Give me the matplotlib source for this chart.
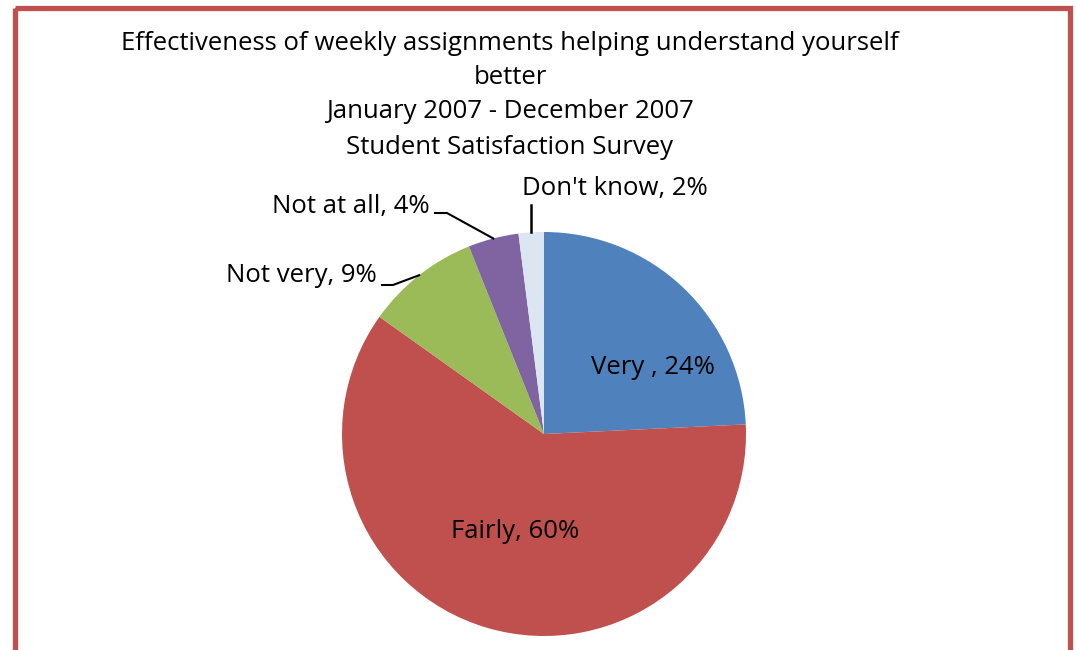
import numpy as np
import matplotlib.pyplot as plt
from matplotlib.patches import Rectangle

plt.rcParams['font.family'] = ['Open Sans', 'DejaVu Sans']

# data
categories = ['Very ', 'Fairly', 'Not very', 'Not at all', "Don't know"]
percents = [24, 60, 9, 4, 2]
colors = ['#4F81BD', '#C0504D', '#9BBB59', '#8064A2', '#DCE6F2']
title_lines = ['Effectiveness of weekly assignments helping understand yourself',
               'better',
               'January 2007 - December 2007',
               'Student Satisfaction Survey']

W, H = 1076, 650
FS = 18.5
fig = plt.figure(figsize=(W / 100, H / 100), dpi=100)

# pie, center (544, 434), radius 202 px
cx, cy, r = 544, 434, 202
pie_ax = fig.add_axes([(cx - r) / W, (H - cy - r) / H, 2 * r / W, 2 * r / H])
pie_ax.pie(percents, colors=colors, startangle=90, counterclock=False,
           radius=1, wedgeprops=dict(linewidth=0))
pie_ax.set_xlim(-1, 1)
pie_ax.set_ylim(-1, 1)
pie_ax.axis('off')

# overlay in pixel coords for frame, title, labels
ov = fig.add_axes([0, 0, 1, 1], zorder=3)
ov.set_xlim(0, W)
ov.set_ylim(H, 0)
ov.axis('off')
ov.patch.set_alpha(0)
ov.add_patch(Rectangle((14.5, 7.5), 1055, 644.5, fill=False,
                       edgecolor='#C0504D', linewidth=3.8))

title_y = [43, 77, 112, 148]
for line, y in zip(title_lines, title_y):
    ov.text(510, y, line, ha='center', va='center', fontsize=FS)

labels = [f'{c}, {p}%' for c, p in zip(categories, percents)]

# wedge mid-angles (degrees clockwise from top)
frac = np.array(percents) / sum(percents)
mids = (np.cumsum(frac) - frac / 2) * 360

def edge_point(i):
    a = np.radians(mids[i])
    return cx + r * np.sin(a), cy - r * np.cos(a)

# inside labels
ov.text(653, 367, labels[0], ha='center', va='center', fontsize=FS)
ov.text(515, 531, labels[1], ha='center', va='center', fontsize=FS)

# outside labels with leader lines
ov.text(377, 276, labels[2], ha='right', va='center', fontsize=FS)
ex, ey = edge_point(2)
ov.plot([382, 393, ex], [285, 285, ey], color='black', lw=1.5)

ov.text(430, 207, labels[3], ha='right', va='center', fontsize=FS)
ex, ey = edge_point(3)
ov.plot([435, 447, ex], [213, 213, ey], color='black', lw=1.5)

ov.text(615, 188, labels[4], ha='center', va='center', fontsize=FS)
ex, ey = edge_point(4)
ov.plot([ex, ex], [205, ey], color='black', lw=1.8)

fig.savefig('out.png', dpi=100, facecolor='white')
